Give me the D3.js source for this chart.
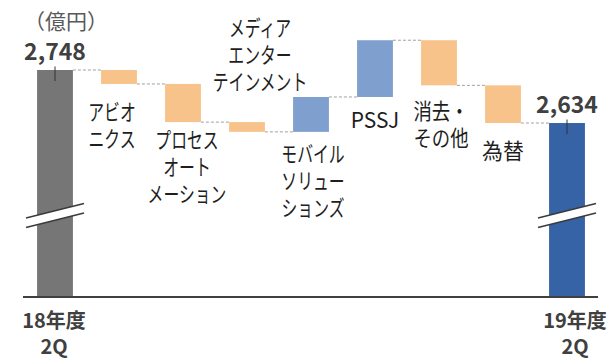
<!DOCTYPE html>
<html>
<head>
<meta charset="utf-8">
<script src="https://cdn.jsdelivr.net/npm/d3@7"></script>
<style>
  body { margin: 0; background: #fff; }
  svg text { font-family: "Noto Sans CJK JP", "Noto Sans", sans-serif; }
</style>
</head>
<body>
<div id="chart"></div>
<script>
// values in 億円
const categories = ['18年度2Q', 'アビオニクス', 'プロセスオートメーション', 'メディアエンターテインメント',
  'モバイルソリューションズ', 'PSSJ', '消去・その他', '為替', '19年度2Q'];
const labelLines = [['18年度', '2Q'], ['アビオ', 'ニクス'], ['プロセス', 'オート', 'メーション'],
  ['メディア', 'エンター', 'テインメント'], ['モバイル', 'ソリュー', 'ションズ'], ['PSSJ'],
  ['消去・', 'その他'], ['為替'], ['19年度', '2Q']];
const startTotal = 2748;
const deltas = [-30, -82, -21, 75, 122, -97, -81];
const endTotal = 2634;
const unitLabel = '（億円）';

// label nudges (px) relative to the default spot
const labelNudge = [[-1, 0], [-7, 6], [4, -4], [13, 0], [2, 0], [0, 0], [2, 3], [0, 5], [8, 0]];

const width = 611, height = 360;
const baseY = 297;

const svg = d3.select('#chart').append('svg')
  .attr('width', width)
  .attr('height', height);

// build waterfall steps
let run = startTotal;
const steps = [{ name: categories[0], lo: null, hi: startTotal, kind: 'total0' }];
deltas.forEach((d, i) => {
  const from = run;
  run += d;
  steps.push({ name: categories[i + 1], lo: Math.min(from, run), hi: Math.max(from, run), kind: d < 0 ? 'down' : 'up' });
});
steps.push({ name: categories[8], lo: null, hi: endTotal, kind: 'total1' });

const x = d3.scaleBand()
  .domain(categories)
  .range([23, 599])
  .paddingInner(0.44)
  .paddingOuter(0.22);

// broken axis: baseline is not zero
const y = d3.scaleLinear()
  .domain([2260, startTotal])
  .range([baseY, 70]);

const colors = { total0: '#767676', total1: '#3563a5', down: '#f8c38a', up: '#7f9fce' };

// connectors
const levels = [startTotal];
let r2 = startTotal;
deltas.forEach(d => { r2 += d; levels.push(r2); });
svg.append('g').selectAll('line')
  .data(levels)
  .join('line')
  .attr('x1', (d, i) => x(categories[i]) + x.bandwidth())
  .attr('x2', (d, i) => x(categories[i + 1]))
  .attr('y1', d => y(d))
  .attr('y2', d => y(d))
  .attr('stroke', '#a0a0a0')
  .attr('stroke-width', 1)
  .attr('stroke-dasharray', '3,2');

// bars
svg.append('g').selectAll('rect')
  .data(steps)
  .join('rect')
  .attr('x', d => x(d.name))
  .attr('width', x.bandwidth())
  .attr('y', d => y(d.hi))
  .attr('height', d => (d.lo === null ? baseY : y(d.lo)) - y(d.hi))
  .attr('fill', d => colors[d.kind]);

// break marks on the total bars
[steps[0], steps[8]].forEach(d => {
  const cx = x(d.name) + x.bandwidth() / 2;
  const x0 = cx - 29, x1 = cx + 29, yL = 218, yR = 203.5, gap = 9.5;
  svg.append('polygon')
    .attr('points', [[x0, yL], [x1, yR], [x1, yR + gap], [x0, yL + gap]].join(' '))
    .attr('fill', '#fff');
  [0, gap].forEach(o => {
    svg.append('line')
      .attr('x1', x0).attr('y1', yL + o)
      .attr('x2', x1).attr('y2', yR + o)
      .attr('stroke', '#3a3a3a')
      .attr('stroke-width', 1.6);
  });
  // small tick at total top
  svg.append('line')
    .attr('x1', cx).attr('x2', cx)
    .attr('y1', y(d.hi) - 3.5).attr('y2', y(d.hi) + 11)
    .attr('stroke', '#333')
    .attr('stroke-width', 1);
  // value label
  svg.append('text')
    .attr('x', cx)
    .attr('y', y(d.hi) - 20)
    .attr('text-anchor', 'middle')
    .attr('dominant-baseline', 'central')
    .attr('font-size', 23)
    .attr('font-weight', 'bold')
    .attr('fill', '#404040')
    .text(d3.format(',')(d.hi));
});

// axis line
svg.append('line')
  .attr('x1', 23).attr('x2', 598)
  .attr('y1', baseY).attr('y2', baseY)
  .attr('stroke', '#404040')
  .attr('stroke-width', 2);

// unit
svg.append('text')
  .attr('x', 24)
  .attr('y', 20)
  .attr('dominant-baseline', 'central')
  .attr('font-size', 21)
  .attr('fill', '#595959')
  .text(unitLabel);

// kana in the original font is narrow, squeeze kana-heavy labels
const kanaShare = s => s.split('').filter(c => /[\u30a0-\u30ff\u3040-\u309f]/.test(c)).length / s.length;

// category labels
const lineH = 27;
steps.forEach((d, i) => {
  const lines = labelLines[i];
  const cx = x(d.name) + x.bandwidth() / 2 + labelNudge[i][0];
  const isTotal = d.kind === 'total0' || d.kind === 'total1';
  const lh = isTotal ? 26 : lineH;
  let y0;
  if (isTotal) {
    y0 = baseY + 22;
  } else if (i === 3) {
    // media label sits above its bar
    y0 = y(d.hi) - 41 - (lines.length - 1) * lineH;
  } else {
    y0 = y(d.lo) + 21;
  }
  y0 += labelNudge[i][1];
  const sx = isTotal ? 1 : 0.95 - 0.23 * d3.mean(lines, kanaShare);
  const t = svg.append('text')
    .attr('transform', `translate(${cx},${y0}) scale(${sx},1)`)
    .attr('text-anchor', 'middle')
    .attr('font-size', isTotal ? 20 : 22)
    .attr('font-weight', isTotal ? 'bold' : 'normal')
    .attr('fill', isTotal ? '#404040' : '#1e1e1e');
  lines.forEach((s, k) => {
    t.append('tspan')
      .attr('x', 0)
      .attr('y', k * lh)
      .attr('dominant-baseline', 'central')
      .text(s);
  });
});
</script>
</body>
</html>
